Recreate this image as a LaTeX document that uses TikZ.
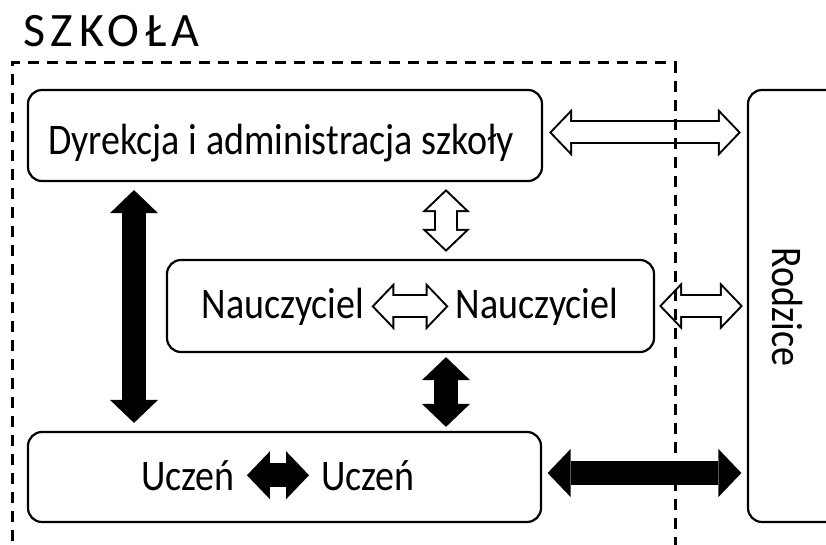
\documentclass[tikz,border=0pt]{standalone}
\usepackage{graphicx}
\usepackage{fontspec}
\setmainfont{Carlito}
\newfontfamily\spacedfont[LetterSpace=12]{Carlito}
\usepackage{tikz}
\usetikzlibrary{calc,arrows.meta}
\tikzstyle{whitebox}=[rectangle,rounded corners=14pt,draw=black,fill=white,
                      line width=2.2pt,inner sep=0pt]
\tikzstyle{plaintext}=[inner sep=0pt,font=\fontsize{38}{46}\selectfont]
\tikzstyle{frame}=[draw=black,line width=3pt,dash pattern=on 11pt off 8pt]
\newcommand\tall[1]{\scalebox{1}[1.15]{#1}}
\newcommand\bighead{Triangle[length=23pt 0 0,width=48pt 0 0,line width=0pt]}
\newcommand\innerhead{Triangle[length=18.2pt 0 0,width=38pt 0 0,line width=0pt]}
\tikzset{
  blackarrow/.style={line width=24pt,shorten <=#1,shorten >=#1,
    {\bighead}-{\bighead}},
  hollowarrow/.style={blackarrow=#1,
    postaction={draw=white,line width=20pt,shorten <=#1+2.8pt,shorten >=#1+2.8pt,
      {\innerhead}-{\innerhead}}}
}

\begin{document}
\begin{tikzpicture}[x=1pt,y=-1pt]
    \useasboundingbox (0,0) rectangle (826,545);
    \clip (0,0) rectangle (826,545);
    \node [anchor=base west,inner sep=0pt,font={\spacedfont\fontsize{48}{56}\selectfont}]
        (Szkola) at (23,47) {SZKOŁA};

    \node [whitebox,minimum width=514pt,minimum height=91pt] (Dyrekcja) at (285,135.5) {};
    \node [plaintext,anchor=base] (DyrekcjaTxt) at (281,155) {\tall{Dyrekcja i administracja szkoły}};

    \node [whitebox,minimum width=487pt,minimum height=92pt] (Nauczyciel) at (410.5,306) {};
    \node [plaintext,anchor=base] (Naucz1) at (283,318) {\tall{Nauczyciel}};
    \node [plaintext,anchor=base] (Naucz2) at (537,318) {\tall{Nauczyciel}};

    \node [whitebox,minimum width=513pt,minimum height=90pt] (Uczen) at (284.5,477) {};
    \node [plaintext,anchor=base] (Uczen1) at (188,490) {\tall{Uczeń}};
    \node [plaintext,anchor=base] (Uczen2) at (368,490) {\tall{Uczeń}};

    \node [whitebox,minimum width=110pt,minimum height=432pt] (Rodzice) at (803,306) {};
    \node [plaintext,rotate=-90] (RodziceTxt) at (788,307) {\tall{Rodzice}};

    \coordinate (colA) at (134,0);
    \coordinate (colB) at (446,0);

    \draw [hollowarrow=6pt] ($(Dyrekcja.east)+(0,-3)$) -- ($(Dyrekcja.east -| Rodzice.west)+(0,-3)$);
    \draw [hollowarrow=4pt] (Nauczyciel.east) -- (Nauczyciel.east -| Rodzice.west);
    \draw [hollowarrow=7pt] (Dyrekcja.south -| colB) -- (Nauczyciel.north -| colB);
    \draw [hollowarrow=7pt] (Naucz1.east) -- (Naucz2.west);
    \draw [blackarrow=8pt] (Dyrekcja.south -| colA) -- (Uczen.north -| colA);
    \draw [blackarrow=4pt] (Nauczyciel.south -| colB) -- (Uczen.north -| colB);
    \draw [blackarrow=5.5pt] ($(Uczen.east)+(0,-4)$) -- ($(Uczen.east -| Rodzice.west)+(0,-4)$);
    \draw [blackarrow=12pt] (Uczen1.east) -- (Uczen2.west);

    \draw [frame] (12,560) -- (12,63) -- (675,63) -- (675,560);
\end{tikzpicture}
\end{document}
